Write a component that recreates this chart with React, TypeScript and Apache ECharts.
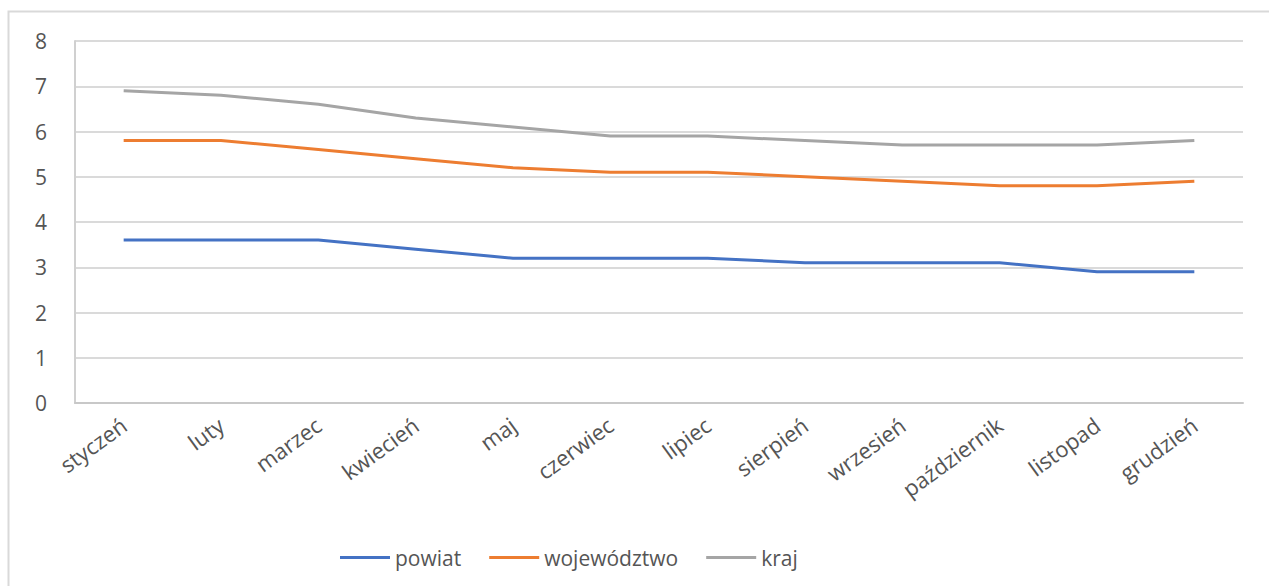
import React, { useEffect, useRef } from "react";
import * as echarts from "echarts";

const categories = ["styczeń", "luty", "marzec", "kwiecień", "maj", "czerwiec", "lipiec", "sierpień", "wrzesień", "październik", "listopad", "grudzień"];
const powiat = [3.6, 3.6, 3.6, 3.4, 3.2, 3.2, 3.2, 3.1, 3.1, 3.1, 2.9, 2.9];
const wojewodztwo = [5.8, 5.8, 5.6, 5.4, 5.2, 5.1, 5.1, 5.0, 4.9, 4.8, 4.8, 4.9];
const kraj = [6.9, 6.8, 6.6, 6.3, 6.1, 5.9, 5.9, 5.8, 5.7, 5.7, 5.7, 5.8];
const seriesNames = ["powiat", "województwo", "kraj"];
const colors = ["#4472C4", "#ED7D31", "#A5A5A5"];

const FONT = "Open Sans";
const TEXT = "#555555";

export default function App() {
  const ref = useRef<HTMLDivElement>(null);
  useEffect(() => {
    if (!ref.current) return;
    const chart = echarts.init(ref.current, null, { renderer: "svg" });
    const data = [powiat, wojewodztwo, kraj];
    chart.setOption({
      animation: false,
      backgroundColor: "#ffffff",
      color: colors,
      textStyle: { fontFamily: FONT },
      graphic: [
        {
          type: "rect",
          shape: { x: 8.5, y: 11.5, width: 1300, height: 700 },
          style: { fill: "none", stroke: "#d9d9d9", lineWidth: 2 },
          silent: true,
          z: -1,
        },
      ],
      grid: { left: 75, right: 26, top: 41, bottom: 183, containLabel: false },
      legend: {
        top: 542,
        left: 335,
        icon: "rect",
        itemWidth: 50,
        itemHeight: 3,
        itemGap: 28,
        data: seriesNames,
        textStyle: { color: TEXT, fontSize: 21, fontFamily: FONT },
      },
      xAxis: {
        type: "category",
        data: categories,
        boundaryGap: true,
        axisLine: { show: true, lineStyle: { color: "#c8c8c8", width: 2 } },
        axisTick: { show: false },
        axisLabel: { rotate: 36, margin: 19, color: TEXT, fontSize: 22, fontFamily: FONT, interval: 0 },
      },
      yAxis: {
        type: "value",
        min: 0,
        max: 8,
        interval: 1,
        axisLine: { show: true, lineStyle: { color: "#d0d0d0", width: 2 } },
        axisTick: { show: false },
        axisLabel: { color: TEXT, fontSize: 21, fontFamily: FONT, margin: 28 },
        splitLine: { lineStyle: { color: "#dadada", width: 2 } },
      },
      series: seriesNames.map((n, i) => ({
        name: n,
        type: "line",
        data: data[i],
        symbol: "none",
        lineStyle: { width: 3, color: colors[i] },
        itemStyle: { color: colors[i] },
      })),
    });
    return () => chart.dispose();
  }, []);
  return <div ref={ref} style={{ position: "fixed", left: 0, top: 0, width: 1269, height: 586 }} />;
}
